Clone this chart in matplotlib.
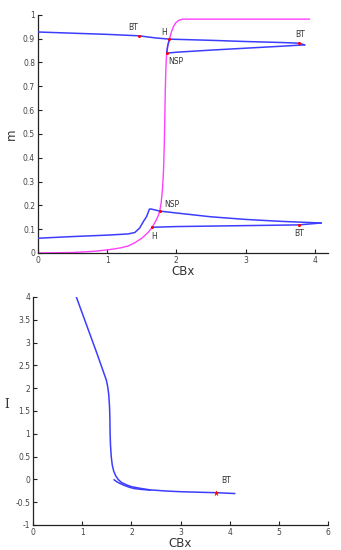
import matplotlib
matplotlib.use("Agg")
import matplotlib.pyplot as plt

plt.rcParams['axes.unicode_minus'] = False
plt.rcParams['font.family'] = ['DejaVu Sans']

# ---- top panel data ----
up_x = [0, 0.5, 1.0, 1.46, 1.70, 1.90, 2.5, 3.0, 3.5, 3.77, 3.85]
up_y = [0.928, 0.923, 0.918, 0.912, 0.903, 0.898, 0.893, 0.888, 0.884, 0.881, 0.874]
ret_x = [3.85, 3.5, 3.0, 2.5, 2.0, 1.86, 1.875, 1.90]
ret_y = [0.874, 0.868, 0.860, 0.852, 0.843, 0.839, 0.87, 0.898]
low_x = [0, 0.5, 1.0, 1.3, 1.4, 1.47, 1.53, 1.57, 1.61, 1.63, 1.76, 2.0, 2.5, 3.0, 3.5, 4.09]
low_y = [0.062, 0.069, 0.075, 0.080, 0.086, 0.105, 0.135, 0.153, 0.184, 0.185, 0.176, 0.168, 0.152, 0.141, 0.133, 0.126]
lret_x = [4.09, 3.77, 3.0, 2.0, 1.645]
lret_y = [0.126, 0.118, 0.115, 0.111, 0.108]
mag_x = [0, 0.5, 0.8, 1.0, 1.1, 1.2, 1.3, 1.4, 1.5, 1.55, 1.6, 1.645, 1.7, 1.74, 1.76, 1.78, 1.80,
         1.815, 1.825, 1.832, 1.838, 1.845, 1.852, 1.86, 1.875, 1.90, 1.93, 1.96, 1.99, 2.03, 2.09, 3.92]
mag_y = [0, 0.002, 0.007, 0.013, 0.017, 0.022, 0.029, 0.043, 0.062, 0.075, 0.089, 0.106, 0.133, 0.158,
         0.176, 0.21, 0.27, 0.35, 0.45, 0.55, 0.65, 0.74, 0.80, 0.839, 0.87, 0.898, 0.93, 0.952, 0.966,
         0.976, 0.982, 0.982]
pts_x = [1.46, 1.90, 3.77, 1.86, 1.76, 1.645, 3.77]
pts_y = [0.912, 0.898, 0.881, 0.839, 0.176, 0.108, 0.118]
lab_txt = ['BT', 'H', 'BT', 'NSP', 'NSP', 'H', 'BT']
lab_x = [1.375, 1.82, 3.78, 1.99, 1.94, 1.68, 3.77]
lab_y = [0.948, 0.927, 0.916, 0.804, 0.204, 0.071, 0.080]

# ---- bottom panel data ----
b1_x = [0.88, 1.10, 1.30, 1.45, 1.49, 1.52, 1.54, 1.555, 1.562, 1.567, 1.575, 1.59, 1.61, 1.64, 1.68,
        1.73, 1.80, 1.90, 2.0, 2.2, 2.38, 2.7, 2.99, 3.4, 3.72, 4.1]
b1_y = [4.0, 3.35, 2.76, 2.30, 2.18, 2.02, 1.85, 1.60, 1.35, 1.0, 0.75, 0.5, 0.32, 0.18, 0.08,
        0.0, -0.07, -0.12, -0.16, -0.2, -0.23, -0.255, -0.27, -0.283, -0.292, -0.31]
b2_x = [1.65, 1.70, 1.75, 1.84, 1.95, 2.05, 2.2, 2.38]
b2_y = [-0.01, -0.05, -0.08, -0.125, -0.17, -0.20, -0.22, -0.235]
bt_x = [3.72]
bt_y = [-0.292]

blue = '#3d3dff'
mag = '#ff40ff'
tickc = '#444444'

fig = plt.figure(figsize=(3.41, 5.5), dpi=100)
ax1 = fig.add_axes([0.111, 0.54, 0.851, 0.433])
ax2 = fig.add_axes([0.097, 0.0455, 0.865, 0.4145])

for ax in (ax1, ax2):
    for s in ('top', 'right'):
        ax.spines[s].set_visible(False)
    for s in ('left', 'bottom'):
        ax.spines[s].set_color('#222222')
        ax.spines[s].set_linewidth(0.9)
    ax.tick_params(direction='in', length=3, width=0.8, labelsize=5.5,
                   colors='#222222', labelcolor=tickc, pad=2)

ax1.plot(mag_x, mag_y, color=mag, lw=1.0, zorder=2)
ax1.plot(up_x, up_y, color=blue, lw=1.1, zorder=3)
ax1.plot(ret_x, ret_y, color=blue, lw=1.1, zorder=3)
ax1.plot(low_x, low_y, color=blue, lw=1.1, zorder=3)
ax1.plot(lret_x, lret_y, color=blue, lw=1.1, zorder=3)
ax1.plot(pts_x, pts_y, 'o', color='red', ms=2.2, zorder=4, mec='none')
for t, x, y in zip(lab_txt, lab_x, lab_y):
    ax1.text(x, y, t, fontsize=5.5, color='#333333', ha='center', va='center')
ax1.set_xlim(0, 4.19)
ax1.set_ylim(0, 1)
ax1.set_xticks([0, 1, 2, 3, 4])
ax1.set_yticks([0, 0.1, 0.2, 0.3, 0.4, 0.5, 0.6, 0.7, 0.8, 0.9, 1])
ax1.set_yticklabels(['0', '0.1', '0.2', '0.3', '0.4', '0.5', '0.6', '0.7', '0.8', '0.9', '1'])
ax1.set_xlabel('CBx', fontsize=8.5, color='#333333', labelpad=0)
ax1.set_ylabel('m', fontsize=8.5, color='#333333', labelpad=4)

ax2.plot(b1_x, b1_y, color=blue, lw=1.1)
ax2.plot(b2_x, b2_y, color=blue, lw=1.1)
ax2.plot(bt_x, bt_y, '*', color='red', ms=5, mec='none', zorder=4)
ax2.text(3.83, -0.035, 'BT', fontsize=5.5, color='#333333', ha='left', va='center')
ax2.set_xlim(0, 6)
ax2.set_ylim(-1, 4)
ax2.set_xticks([0, 1, 2, 3, 4, 5, 6])
ax2.set_yticks([-1, -0.5, 0, 0.5, 1, 1.5, 2, 2.5, 3, 3.5, 4])
ax2.set_yticklabels(['-1', '-0.5', '0', '0.5', '1', '1.5', '2', '2.5', '3', '3.5', '4'])
ax2.set_xlabel('CBx', fontsize=8.5, color='#333333', labelpad=0)
ax2.set_ylabel('I', fontsize=8.5, family='DejaVu Serif', rotation=0, color='#333333', labelpad=6)

fig.savefig('out.png', dpi=100)
